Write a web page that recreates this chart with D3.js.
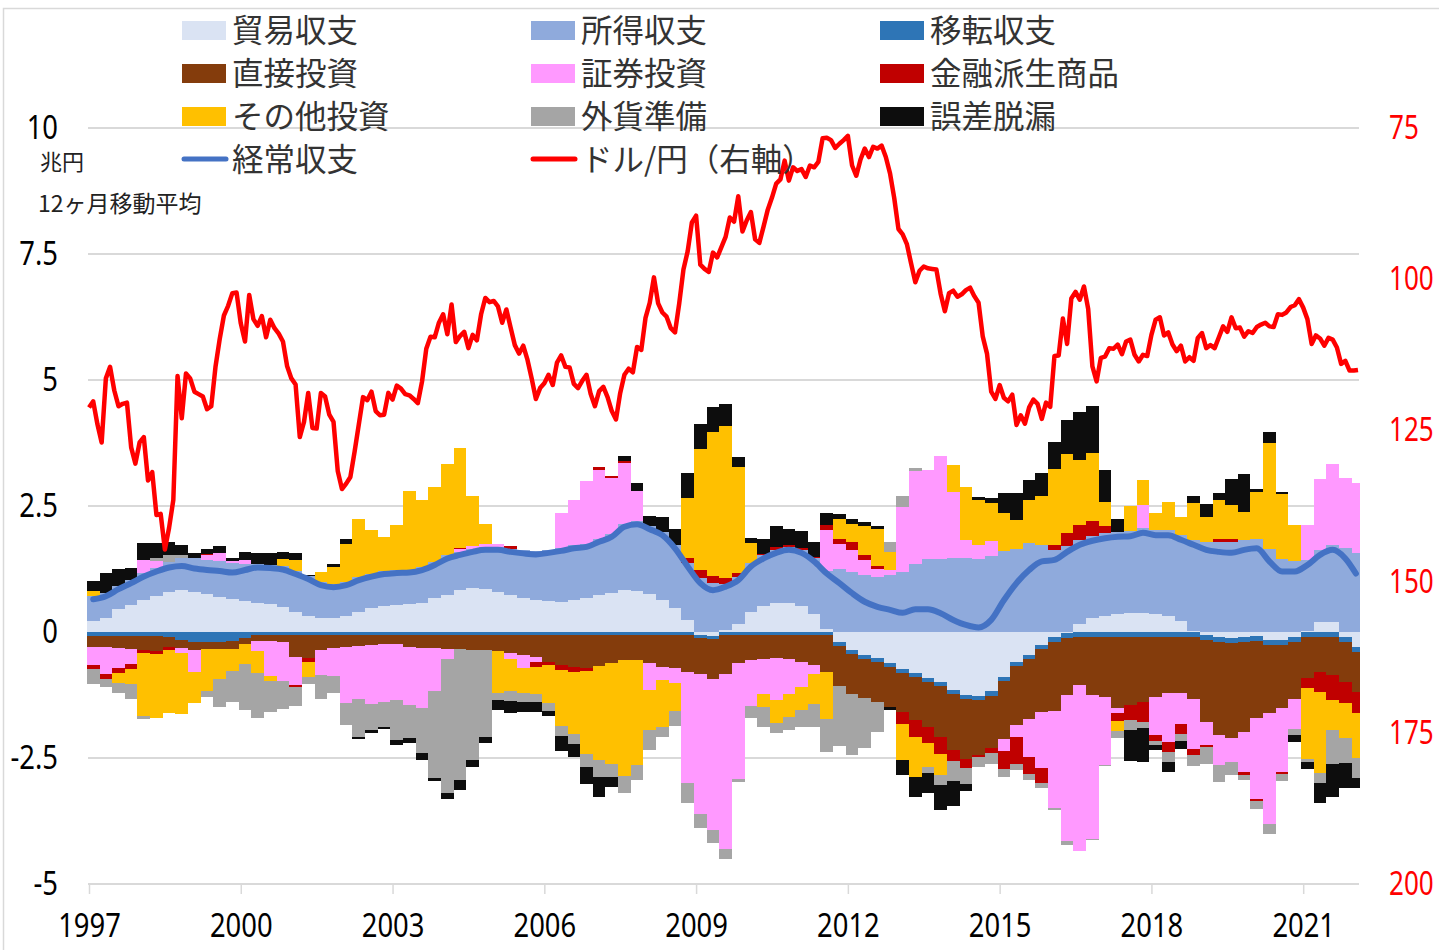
<!DOCTYPE html>
<html>
<head>
<meta charset="utf-8">
<script src="https://cdn.jsdelivr.net/npm/d3@7"></script>
<style>
  body { margin: 0; background: #fff; }
  svg text { font-family: "Noto Sans CJK JP", "Noto Sans", sans-serif; }
</style>
</head>
<body>
<div id="chart"></div>
<script>
// tick labels
const yearLabels = ["1997", "2000", "2003", "2006", "2009", "2012", "2015", "2018", "2021"];
const leftTicks = [-5, -2.5, 0, 2.5, 5, 7.5, 10];
const rightTicks = [75, 100, 125, 150, 175, 200];

const seriesNames = ["貿易収支", "所得収支", "移転収支", "直接投資", "証券投資", "金融派生商品", "その他投資", "外貨準備", "誤差脱漏"];
const lineNames = ["経常収支", "ドル/円（右軸）"];

// 兆円, 12ヶ月移動平均, quarterly 1997Q1 .. 2022Q1 (Jan-Feb)
const trade = [
  0.22, 0.27, 0.45, 0.54, 0.63, 0.71, 0.80, 0.83, 0.80, 0.75,
  0.70, 0.65, 0.62, 0.58, 0.56, 0.49, 0.40, 0.32, 0.27, 0.27,
  0.32, 0.40, 0.48, 0.52, 0.54, 0.56, 0.57, 0.67, 0.73, 0.83,
  0.87, 0.86, 0.80, 0.73, 0.67, 0.63, 0.62, 0.60, 0.63, 0.68,
  0.73, 0.78, 0.83, 0.82, 0.75, 0.63, 0.47, 0.24, -0.05, -0.08,
  0.03, 0.15, 0.40, 0.52, 0.57, 0.58, 0.52, 0.35, 0.05, -0.20,
  -0.35, -0.45, -0.52, -0.62, -0.73, -0.82, -0.92, -1.00, -1.15, -1.25,
  -1.27, -1.18, -0.90, -0.60, -0.45, -0.25, -0.10, -0.02, 0.15, 0.28,
  0.32, 0.35, 0.37, 0.37, 0.35, 0.32, 0.22, 0.02, -0.05, -0.10,
  -0.12, -0.10, -0.08, -0.15, -0.15, -0.10, 0.02, 0.20, 0.20, -0.10,
  -0.30
];
const income = [
  0.50, 0.51, 0.47, 0.50, 0.54, 0.56, 0.58, 0.63, 0.66, 0.68,
  0.71, 0.71, 0.73, 0.76, 0.77, 0.81, 0.81, 0.79, 0.72, 0.68,
  0.67, 0.69, 0.68, 0.69, 0.69, 0.68, 0.72, 0.72, 0.79, 0.76,
  0.78, 0.83, 0.89, 0.92, 0.95, 0.97, 1.01, 1.07, 1.09, 1.07,
  1.12, 1.17, 1.32, 1.38, 1.35, 1.35, 1.25, 1.12, 1.08, 0.97,
  0.93, 0.94, 0.96, 1.00, 1.06, 1.11, 1.11, 1.11, 1.17, 1.25,
  1.20, 1.13, 1.10, 1.14, 1.19, 1.35, 1.45, 1.45, 1.47, 1.47,
  1.44, 1.50, 1.61, 1.65, 1.76, 1.73, 1.63, 1.71, 1.68, 1.63,
  1.64, 1.64, 1.63, 1.70, 1.67, 1.70, 1.71, 1.81, 1.78, 1.79,
  1.79, 1.83, 1.84, 1.65, 1.45, 1.40, 1.41, 1.43, 1.53, 1.66,
  1.56
];
const transfer = [
  -0.07, -0.07, -0.07, -0.07, -0.07, -0.07, -0.10, -0.15, -0.20, -0.20,
  -0.20, -0.18, -0.12, -0.06, -0.06, -0.06, -0.06, -0.06, -0.06, -0.06,
  -0.06, -0.06, -0.06, -0.06, -0.06, -0.06, -0.06, -0.06, -0.06, -0.06,
  -0.06, -0.06, -0.06, -0.06, -0.06, -0.06, -0.06, -0.06, -0.06, -0.06,
  -0.06, -0.06, -0.06, -0.06, -0.06, -0.06, -0.06, -0.06, -0.06, -0.06,
  -0.06, -0.06, -0.06, -0.06, -0.06, -0.06, -0.06, -0.06, -0.06, -0.08,
  -0.08, -0.08, -0.08, -0.08, -0.08, -0.08, -0.08, -0.08, -0.08, -0.08,
  -0.08, -0.08, -0.08, -0.08, -0.08, -0.08, -0.10, -0.10, -0.10, -0.10,
  -0.10, -0.10, -0.10, -0.10, -0.10, -0.10, -0.10, -0.10, -0.10, -0.10,
  -0.10, -0.10, -0.10, -0.10, -0.10, -0.10, -0.10, -0.10, -0.10, -0.10,
  -0.10
];
const direct = [
  -0.23, -0.23, -0.24, -0.26, -0.28, -0.30, -0.20, -0.17, -0.15, -0.13,
  -0.13, -0.15, -0.12, -0.12, -0.12, -0.13, -0.43, -0.46, -0.30, -0.26,
  -0.23, -0.22, -0.20, -0.18, -0.17, -0.23, -0.25, -0.26, -0.28, -0.28,
  -0.30, -0.30, -0.31, -0.35, -0.40, -0.43, -0.53, -0.60, -0.64, -0.66,
  -0.62, -0.56, -0.50, -0.50, -0.56, -0.63, -0.66, -0.73, -0.73, -0.80,
  -0.77, -0.56, -0.50, -0.48, -0.46, -0.48, -0.53, -0.60, -0.73, -0.79,
  -0.81, -0.78, -0.78, -0.79, -0.77, -0.85, -0.88, -1.00, -1.12, -1.19,
  -1.10, -1.05, -1.14, -1.17, -1.19, -1.26, -1.37, -1.13, -0.95, -1.15,
  -1.18, -1.41, -1.35, -1.28, -1.18, -1.12, -1.12, -1.22, -1.63, -1.84,
  -1.89, -1.78, -1.53, -1.36, -1.26, -1.12, -0.82, -0.69, -0.75, -0.80,
  -0.80
];
const portfolio = [
  -0.36, -0.53, -0.40, -0.30, 0.25, 0.13, 0, -0.10, -0.45, 0.10,
  0.15, 0.05, 0.07, -0.20, -0.70, -0.78, -0.56, 0, -0.50, -0.56,
  -1.12, -1.04, -1.16, -1.15, -1.12, -1.16, -1.20, -0.85, -0.20, 0.05,
  0.05, 0.05, 0.05, -0.13, -0.25, -0.10, 0, 0.70, 0.90, 1.25,
  1.37, 1.10, 1.20, 0.60, -0.53, -0.26, -0.30, -2.20, -2.78, -2.98,
  -3.47, -2.30, -0.90, -0.70, -0.83, -0.70, -0.50, -0.17, 0.80, 0.50,
  0.43, 0.30, 0.15, 0.10, 1.30, 1.85, 1.76, 2.05, 1.30, 0.35,
  0.28, 0.30, -0.25, -0.23, -0.76, -1.10, -1.92, -2.90, -3.30, -2.85,
  -1.35, -0.10, 0, 0.45, -0.76, -0.96, -0.60, -1.00, -0.46, -0.60,
  -0.46, -0.80, -1.60, -2.20, -1.26, -0.60, 0.70, 1.40, 1.60, 1.40,
  1.40
];
const derivatives = [
  -0.07, -0.10, -0.10, -0.10, -0.07, -0.07, -0.05, 0, 0, 0.02,
  0, 0, 0, 0, 0, 0, -0.05, -0.07, 0, 0,
  0, 0, 0, 0, 0, 0, 0, 0, 0, 0.02,
  0, 0, 0, 0.05, 0, -0.10, -0.07, -0.10, -0.10, -0.05,
  0.05, 0.05, 0.05, 0, 0, 0, 0, 0.10, 0.15, 0.15,
  0.12, 0.08, 0, 0.03, 0.05, 0.03, 0.03, 0.03, 0.10, 0.10,
  0.15, 0.10, 0.05, 0, -0.25, -0.33, -0.33, -0.35, -0.20, -0.17,
  -0.03, -0.10, -0.35, -0.53, -0.33, -0.30, 0.10, 0.25, 0.30, 0.30,
  0.15, -0.15, -0.30, -0.40, -0.13, -0.20, -0.20, -0.13, -0.05, 0.05,
  0.05, -0.05, -0.05, 0, -0.05, 0, -0.20, -0.40, -0.50, -0.40,
  -0.40
];
const other = [
  0.10, 0, -0.20, -0.30, -1.24, -1.26, -1.25, -1.20, -0.60, -0.85,
  -0.60, -0.45, -0.40, -0.43, -0.10, 0.15, 0.22, -0.30, 0.20, 0.34,
  0.76, 1.16, 0.86, 0.67, 0.90, 1.56, 1.33, 1.49, 1.82, 2.00,
  1.00, 0.40, -0.85, -0.63, -0.50, -0.55, -0.75, -1.10, -1.22, -1.65,
  -1.86, -2.00, -2.30, -2.08, -0.80, -0.93, -0.55, 1.20, 2.40, 2.85,
  3.00, 2.10, 0.40, -0.25, -0.46, -0.45, -0.46, -0.60, -0.93, 0.40,
  0.37, 0.57, 0.75, 0.35, -0.70, -0.80, -0.46, -0.40, 0.55, 1.06,
  0.90, 0.76, 0.75, 0.57, 0.86, 0.96, 1.50, 1.58, 1.28, 1.35,
  0.46, -0.20, 0.50, 0.50, 0.35, 0.55, 0.35, 0.73, 0.50, 0.78,
  0.67, 0.55, 0.94, 2.10, 1.28, 0.73, -1.40, -1.60, -0.60, -0.70,
  -0.90
];
const reserves = [
  -0.30, -0.17, -0.20, -0.30, -0.07, 0.07, 0.15, 0.07, 0, -0.10,
  -0.55, -0.60, -0.90, -0.90, -0.60, -0.56, -0.36, -0.15, -0.46, -0.33,
  -0.43, -0.76, -0.53, -0.50, -0.80, -0.66, -0.90, -1.72, -2.65, -2.60,
  -2.18, -1.72, -0.13, -0.20, -0.17, -0.15, -0.15, -0.20, -0.20, -0.26,
  -0.33, -0.26, -0.33, -0.30, -0.40, -0.20, -0.30, -0.40, -0.26, -0.26,
  -0.20, -0.05, -0.25, -0.40, -0.20, -0.25, -0.33, -0.46, -0.66, -1.20,
  -1.20, -1.00, -0.60, 0.20, 0.20, 0.05, -0.13, -0.20, -0.40, -0.33,
  -0.20, -0.20, -0.15, -0.13, -0.13, -0.10, -0.05, -0.07, 0, -0.03,
  -0.03, -0.15, -0.20, -0.13, -0.07, -0.20, -0.15, -0.20, -0.33, -0.33,
  -0.26, -0.10, -0.15, -0.20, -0.13, -0.13, -0.05, -0.20, -0.66, -0.50,
  -0.40
];
const errors = [
  0.20, 0.40, 0.33, 0.23, 0.35, 0.30, 0.26, 0.20, 0.11, 0.10,
  0.15, 0.05, 0.17, 0.22, 0.23, 0.13, 0.13, 0.03, 0, 0.05,
  0.10, -0.05, -0.05, -0.04, -0.10, -0.10, -0.12, -0.07, -0.13, -0.20,
  -0.13, -0.13, -0.20, -0.23, -0.20, -0.20, -0.10, -0.30, -0.27, -0.33,
  -0.40, -0.20, 0.10, 0.15, 0.20, 0.30, 0.33, 0.50, 0.50, 0.50,
  0.44, 0.20, 0.10, 0.30, 0.42, 0.33, 0.35, 0.30, 0.25, 0.10,
  0.10, 0.08, 0.05, -0.05, -0.30, -0.40, -0.40, -0.50, -0.50, -0.13,
  0.05, 0.10, 0.40, 0.54, 0.40, 0.46, 0.54, 0.67, 0.96, 0.92,
  0.65, 0.25, -0.60, -0.66, -0.10, -0.20, -0.15, 0.13, 0.26, 0.14,
  0.53, 0.75, 0.05, 0.22, 0.05, -0.13, -0.15, -0.40, -0.66, -0.50,
  -0.20
];
const currentAccount = [
  0.65, 0.71, 0.85, 0.97, 1.10, 1.20, 1.28, 1.31, 1.26, 1.23,
  1.21, 1.18, 1.23, 1.28, 1.27, 1.24, 1.15, 1.05, 0.93, 0.89,
  0.93, 1.03, 1.10, 1.15, 1.17, 1.18, 1.23, 1.33, 1.46, 1.53,
  1.59, 1.63, 1.63, 1.59, 1.56, 1.54, 1.57, 1.61, 1.66, 1.69,
  1.79, 1.89, 2.09, 2.14, 2.04, 1.92, 1.66, 1.30, 0.97, 0.83,
  0.90, 1.03, 1.30, 1.46, 1.57, 1.63, 1.57, 1.40, 1.16, 0.97,
  0.77, 0.60, 0.50, 0.44, 0.38, 0.45, 0.45, 0.37, 0.24, 0.14,
  0.09, 0.24, 0.63, 0.97, 1.23, 1.40, 1.43, 1.59, 1.73, 1.81,
  1.86, 1.89, 1.90, 1.97, 1.92, 1.92, 1.83, 1.73, 1.63, 1.59,
  1.57, 1.63, 1.66, 1.40, 1.20, 1.20, 1.33, 1.53, 1.63, 1.46,
  1.16
];

// ドル/円 月末値, 1997/01 .. 2022/02
const usdjpy = [
  121.2, 120.2, 124.0, 127.0, 116.4, 114.5, 118.4, 121.0, 120.6, 120.4, 127.8, 130.5,
  127.0, 126.1, 133.3, 131.9, 139.0, 138.8, 144.7, 141.1, 136.5, 116.0, 123.0, 115.6,
  116.4, 118.6, 119.0, 119.4, 121.5, 121.0, 114.5, 109.9, 106.0, 104.4, 102.3, 102.2,
  107.3, 110.3, 102.6, 106.6, 107.7, 106.1, 109.6, 106.7, 108.1, 109.0, 110.3, 114.4,
  116.4, 117.4, 126.1, 123.6, 118.8, 124.6, 124.7, 118.8, 119.4, 122.4, 123.6, 131.7,
  134.7, 133.8, 132.7, 128.5, 124.0, 119.5, 120.0, 118.6, 121.8, 122.5, 122.4, 118.8,
  119.9, 117.6, 118.1, 119.0, 119.2, 119.8, 120.5, 116.9, 111.5, 109.5, 109.6, 107.2,
  105.8, 109.1, 104.2, 110.4, 109.4, 108.7, 111.4, 109.2, 110.1, 105.8, 103.1, 103.8,
  103.6, 104.5, 107.2, 105.0, 108.0, 110.9, 112.3, 111.0, 113.3, 116.4, 119.8, 118.0,
  117.2, 115.8, 117.5, 113.8, 112.6, 114.5, 114.6, 117.3, 118.0, 116.8, 115.8, 119.0,
  121.0, 118.5, 117.8, 119.5, 121.8, 123.2, 118.8, 115.8, 114.8, 115.4, 111.2, 111.7,
  106.4, 103.9, 99.7, 104.0, 105.5, 106.2, 108.1, 108.8, 104.0, 98.4, 95.4, 90.6,
  89.5, 97.6, 98.3, 98.8, 95.6, 96.4, 94.7, 93.0, 89.8, 90.5, 86.3, 92.1,
  90.3, 88.9, 93.4, 94.0, 91.3, 88.5, 86.5, 84.2, 83.5, 80.4, 83.7, 81.5,
  82.1, 81.8, 83.1, 81.2, 81.5, 80.6, 76.7, 76.6, 77.0, 78.3, 77.6, 77.0,
  76.3, 81.2, 82.9, 80.2, 78.4, 79.8, 78.1, 78.4, 77.9, 79.8, 82.5, 86.6,
  91.7, 92.6, 94.2, 97.4, 100.5, 98.6, 97.9, 98.2, 98.3, 98.4, 102.4, 105.3,
  102.3, 101.9, 102.9, 102.5, 101.8, 101.4, 102.8, 103.9, 109.5, 112.3, 118.6, 119.8,
  117.5, 119.6, 120.2, 119.1, 124.1, 122.5, 123.9, 121.2, 119.9, 120.6, 123.1, 120.4,
  121.1, 112.7, 112.6, 106.5, 110.7, 103.2, 102.1, 103.4, 101.2, 104.9, 114.4, 116.9,
  113.0, 112.8, 111.4, 111.5, 110.8, 112.4, 110.3, 110.0, 112.5, 113.6, 112.5, 112.7,
  109.2, 106.7, 106.3, 109.3, 108.8, 110.8, 111.9, 111.0, 113.6, 112.9, 113.5, 109.7,
  108.9, 111.4, 110.9, 111.4, 109.6, 107.8, 108.7, 106.3, 108.1, 108.0, 109.5, 108.6,
  108.9, 107.9, 107.5, 107.2, 107.8, 107.9, 105.8, 105.9, 105.5, 104.6, 104.3, 103.3,
  104.7, 106.6, 110.7, 109.3, 109.8, 111.0, 109.7, 110.0, 111.3, 114.0, 113.5, 115.1,
  115.1, 115.0
];

const seriesColors = ["#DAE3F3", "#8FAADC", "#2E75B6", "#843C0C", "#FF99FF", "#C00000", "#FFC000", "#A5A5A5", "#0D0D0D"];
const caColor = "#4472C4";
const fxColor = "#FF0000";

const width = 1439, height = 950;
const plotLeft = 89, plotRight = 1358;

var svg = d3.select("#chart").append("svg")
  .attr("width", width)
  .attr("height", height);

var nMonths = usdjpy.length;
var x = d3.scaleLinear().domain([0, nMonths - 1]).range([plotLeft, plotRight]);
var y = d3.scaleLinear().domain([-5, 10]).range([884, 128]);
var yR = d3.scaleLinear().domain([75, 200]).range([128, 884]);
var step = x(1) - x(0);

// chart area border (only top/left visible in the picture)
svg.append("rect")
  .attr("x", 3.5).attr("y", 8.5)
  .attr("width", width + 10).attr("height", height + 10)
  .attr("fill", "none")
  .attr("stroke", "#d9d9d9")
  .attr("stroke-width", 1.5);

// gridlines
svg.append("g").selectAll("line")
  .data(leftTicks)
  .join("line")
  .attr("x1", plotLeft - 1).attr("x2", plotRight + 1)
  .attr("y1", d => y(d)).attr("y2", d => y(d))
  .attr("stroke", "#d9d9d9")
  .attr("stroke-width", 2);

// stacked bars: positives go up, negatives go down, in series order
var series = [trade, income, transfer, direct, portfolio, derivatives, other, reserves, errors];
var table = d3.range(trade.length).map(q => {
  let row = { q: q };
  series.forEach((s, k) => row[k] = s[q]);
  return row;
});
var stack = d3.stack()
  .keys(d3.range(series.length))
  .offset(d3.stackOffsetDiverging);
var stacked = stack(table);

function qLeft(q) { return Math.round(x(q * 3) - step / 2); }
function qRight(q) { return Math.round(x(Math.min(q * 3 + 2, nMonths - 1)) + step / 2); }

svg.append("g").selectAll("g")
  .data(stacked)
  .join("g")
  .attr("fill", (d, i) => seriesColors[i])
  .selectAll("rect")
  .data(d => d.filter(e => e[1] !== e[0]))
  .join("rect")
  .attr("x", d => qLeft(d.data.q))
  .attr("width", d => qRight(d.data.q) - qLeft(d.data.q))
  .attr("y", d => y(d[1]))
  .attr("height", d => y(d[0]) - y(d[1]))
  .attr("shape-rendering", "crispEdges");

// numeric labels in the picture are tall and narrow: squeeze them horizontally
function narrow(sel, sx) {
  sel.attr("font-size", 33)
    .style("font-family", "'Noto Sans', sans-serif")
    .attr("transform", function () {
      const t = d3.select(this);
      return `translate(0,${t.attr("y") || 0}) scale(${sx},1) translate(0,${-(t.attr("y") || 0)})`;
    });
}

// x axis
var xAxis = d3.axisBottom(x)
  .tickValues(d3.range(0, 289, 36))
  .tickFormat((d, i) => yearLabels[i])
  .tickSize(10)
  .tickPadding(20);

var gx = svg.append("g")
  .attr("transform", "translate(0,884)")
  .call(xAxis);
gx.select(".domain").remove();
gx.selectAll(".tick line").attr("stroke", "#d9d9d9").attr("stroke-width", 1.5);
gx.selectAll(".tick text").attr("fill", "#000").call(narrow, 0.83);

// left axis
var gy = svg.append("g")
  .attr("transform", "translate(58,0)")
  .call(d3.axisLeft(y).tickValues(leftTicks).tickSize(0).tickPadding(0).tickFormat(d => String(d)));
gy.select(".domain").remove();
gy.selectAll(".tick text").attr("fill", "#000").call(narrow, 0.83);

// right axis (inverted)
var gr = svg.append("g")
  .attr("transform", "translate(1389,0)")
  .call(d3.axisRight(yR).tickValues(rightTicks).tickSize(0).tickPadding(0).tickFormat(d => String(d)));
gr.select(".domain").remove();
gr.selectAll(".tick text").attr("fill", fxColor).call(narrow, 0.79);

// 経常収支 line at quarter centres
var caLine = d3.line()
  .x((d, q) => (x(q * 3) + x(Math.min(q * 3 + 2, nMonths - 1))) / 2)
  .y(d => y(d))
  .curve(d3.curveMonotoneX);

svg.append("path")
  .datum(currentAccount)
  .attr("d", caLine)
  .attr("fill", "none")
  .attr("stroke", caColor)
  .attr("stroke-width", 6)
  .attr("stroke-linejoin", "round")
  .attr("stroke-linecap", "round");

// ドル/円 line, right axis
var fxLine = d3.line()
  .x((d, i) => x(i))
  .y(d => yR(d));

svg.append("path")
  .datum(usdjpy)
  .attr("d", fxLine)
  .attr("fill", "none")
  .attr("stroke", fxColor)
  .attr("stroke-width", 4.5)
  .attr("stroke-linejoin", "round");

// unit notes
svg.append("text")
  .attr("x", 40).attr("y", 160)
  .attr("dominant-baseline", "central")
  .attr("font-size", 22)
  .attr("fill", "#222")
  .text("兆円");
svg.append("text")
  .attr("x", 38).attr("y", 202)
  .attr("dominant-baseline", "central")
  .attr("font-size", 23)
  .attr("fill", "#222")
  .text("12ヶ月移動平均");

// legend
var colX = [182, 531, 880];
var rowY = [30, 73, 116, 159];
var legend = svg.append("g");

seriesNames.forEach((name, i) => {
  let cx = colX[i % 3], cy = rowY[Math.floor(i / 3)];
  legend.append("rect")
    .attr("x", cx).attr("y", cy - 9)
    .attr("width", 44).attr("height", 19)
    .attr("fill", seriesColors[i]);
  legend.append("text")
    .attr("x", cx + 50).attr("y", cy - 2)
    .attr("dominant-baseline", "central")
    .attr("font-size", 31.5)
    .attr("fill", "#333")
    .text(name);
});

lineNames.forEach((name, i) => {
  let cx = colX[i], cy = rowY[3];
  legend.append("line")
    .attr("x1", cx + 2).attr("x2", cx + 44)
    .attr("y1", cy).attr("y2", cy)
    .attr("stroke", i === 0 ? caColor : fxColor)
    .attr("stroke-width", 5)
    .attr("stroke-linecap", "round");
  legend.append("text")
    .attr("x", cx + 50).attr("y", cy - 2)
    .attr("dominant-baseline", "central")
    .attr("font-size", 31.5)
    .attr("fill", "#333")
    .text(name);
});
</script>
</body>
</html>
